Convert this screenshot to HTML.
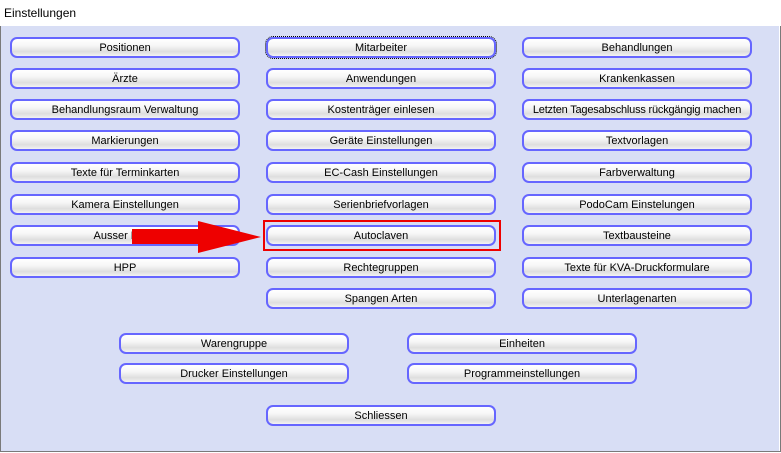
<!DOCTYPE html>
<html><head><meta charset="utf-8"><style>
html,body{margin:0;padding:0;width:781px;height:453px;overflow:hidden;background:#fff;}
.win{position:absolute;left:0;top:0;width:779px;height:451px;border:1px solid #7a7a7a;border-top:none;}
.title{position:absolute;left:0;top:0;width:781px;height:26px;background:#fff;font:12px "Liberation Sans",sans-serif;color:#000;}
.title span{position:absolute;left:4px;top:6px;}
.body{position:absolute;left:1px;top:26px;width:778px;height:425px;background:#d8def5;}
.b{position:absolute;width:226px;height:17px;border:2px solid #6666ff;border-radius:7px;
background:linear-gradient(#ffffff 0%,#f6f6f6 40%,#dedede 75%,#f2f2f2 100%);
font:11px "Liberation Sans",sans-serif;color:#000;text-align:center;line-height:19px;box-sizing:content-box;}
.red{position:absolute;left:263px;top:220px;box-sizing:border-box;width:238px;height:31px;border:2px solid #ee0000;}
</style></head><body>
<div class="win"></div>
<div class="title"><span>Einstellungen</span></div>
<div class="body"></div>
<div class="b" style="left:10px;top:37px">Positionen</div>
<div class="b" style="left:10px;top:68px">Ärzte</div>
<div class="b" style="left:10px;top:99px">Behandlungsraum Verwaltung</div>
<div class="b" style="left:10px;top:130px">Markierungen</div>
<div class="b" style="left:10px;top:162px">Texte für Terminkarten</div>
<div class="b" style="left:10px;top:194px">Kamera Einstellungen</div>
<div class="b" style="left:10px;top:225px">Ausser Haus</div>
<div class="b" style="left:10px;top:257px">HPP</div>

<div class="b" style="left:266px;top:37px;outline:1px dotted #000;outline-offset:0px">Mitarbeiter</div>
<div class="b" style="left:266px;top:68px">Anwendungen</div>
<div class="b" style="left:266px;top:99px">Kostenträger einlesen</div>
<div class="b" style="left:266px;top:130px">Geräte Einstellungen</div>
<div class="b" style="left:266px;top:162px">EC-Cash Einstellungen</div>
<div class="b" style="left:266px;top:194px">Serienbriefvorlagen</div>
<div class="b" style="left:266px;top:225px">Autoclaven</div>
<div class="b" style="left:266px;top:257px">Rechtegruppen</div>
<div class="b" style="left:266px;top:288px">Spangen Arten</div>

<div class="b" style="left:522px;top:37px">Behandlungen</div>
<div class="b" style="left:522px;top:68px">Krankenkassen</div>
<div class="b" style="left:522px;top:99px;letter-spacing:-0.2px">Letzten Tagesabschluss rückgängig machen</div>
<div class="b" style="left:522px;top:130px">Textvorlagen</div>
<div class="b" style="left:522px;top:162px">Farbverwaltung</div>
<div class="b" style="left:522px;top:194px">PodoCam Einstelungen</div>
<div class="b" style="left:522px;top:225px">Textbausteine</div>
<div class="b" style="left:522px;top:257px">Texte für KVA-Druckformulare</div>
<div class="b" style="left:522px;top:288px">Unterlagenarten</div>

<div class="b" style="left:119px;top:333px">Warengruppe</div>
<div class="b" style="left:407px;top:333px">Einheiten</div>
<div class="b" style="left:119px;top:363px">Drucker Einstellungen</div>
<div class="b" style="left:407px;top:363px">Programmeinstellungen</div>
<div class="b" style="left:266px;top:405px">Schliessen</div>

<div class="red"></div>
<svg style="position:absolute;left:0;top:0" width="781" height="453">
<polygon points="132,229 198,229 198,221 261,237 198,253 198,244 132,244" fill="#ee0000"/>
</svg>
</body></html>
